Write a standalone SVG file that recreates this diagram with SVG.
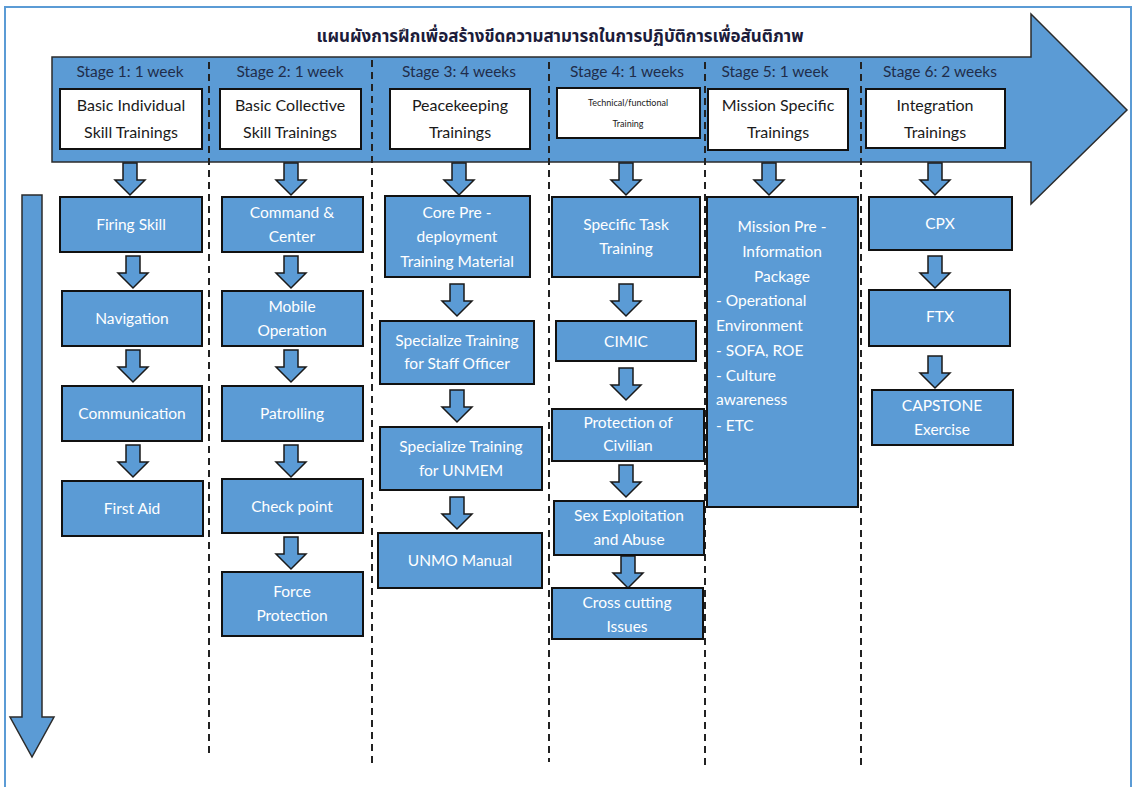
<svg xmlns="http://www.w3.org/2000/svg" xmlns:xlink="http://www.w3.org/1999/xlink" width="1133" height="787" viewBox="0 0 1133 787">
<style>
  .frame{fill:#ffffff;stroke:#5B9BD5;stroke-width:2}
  .big{fill:#5B9BD5;stroke:#2b2b2b;stroke-width:1.5}
  .wbox{fill:#ffffff;stroke:#111111;stroke-width:2}
  .bbox{fill:#5B9BD5;stroke:#111111;stroke-width:2}
  .arr{fill:#5B9BD5;stroke:#1a1a1a;stroke-width:1.5}
  .dash{stroke:#222222;stroke-width:2;stroke-dasharray:7 5;fill:none}
  .title{font-family:"Noto Sans Thai","Tahoma","DejaVu Sans",sans-serif;font-size:17px;font-weight:bold;fill:#1c1c3a;text-anchor:middle}
  .stage{font-family:Lato,"Liberation Sans",sans-serif;font-size:15.5px;fill:#1f2d4a;text-anchor:middle}
  .dk{font-family:Lato,"Liberation Sans",sans-serif;font-size:16px;fill:#1a1a1a;text-anchor:middle}
  .sm{font-family:Lato,"Liberation Sans",sans-serif;font-size:9px;fill:#1a1a1a;text-anchor:middle}
  .wt{font-family:Lato,"Liberation Sans",sans-serif;font-size:15.5px;fill:#ffffff;text-anchor:middle}
  .wl{font-family:Lato,"Liberation Sans",sans-serif;font-size:15.5px;fill:#ffffff;text-anchor:start}
</style>
<defs>
  <path id="dn" class="arr" d="M-7,0 H7 V17 H15 L0,32 L-15,17 H-7 Z"/>
</defs>
<rect class="frame" x="5" y="7" width="1126" height="790"/>
<text class="title" x="560" y="42">แผนผังการฝึกเพื่อสร้างขีดความสามารถในการปฏิบัติการเพื่อสันติภาพ</text>
<g id="timeline-arrow">
  <path class="big" d="M52,57 H1031 V14 L1127,110 L1031,204 V162 H52 Z"/>
</g>
<g id="progress-arrow">
  <path class="big" d="M22,195 H42 V717 H54 L32,757 L10,717 H22 Z"/>
</g>
<g id="separators">
  <line class="dash" x1="209" y1="62" x2="209" y2="757"/>
  <line class="dash" x1="372" y1="60" x2="372" y2="765"/>
  <line class="dash" x1="549" y1="62" x2="549" y2="762"/>
  <line class="dash" x1="705" y1="62" x2="705" y2="765"/>
  <line class="dash" x1="861" y1="62" x2="861" y2="770"/>
</g>
<g id="stage-labels">
  <text class="stage" x="130" y="77">Stage 1: 1 week</text>
  <text class="stage" x="290" y="77">Stage 2: 1 week</text>
  <text class="stage" x="459" y="77">Stage 3: 4 weeks</text>
  <text class="stage" x="627" y="77">Stage 4: 1 weeks</text>
  <text class="stage" x="775" y="77">Stage 5: 1 week</text>
  <text class="stage" x="940" y="77">Stage 6: 2 weeks</text>
</g>
<g id="connectors">
  <use xlink:href="#dn" x="130" y="163"/>
  <use xlink:href="#dn" x="291" y="163"/>
  <use xlink:href="#dn" x="459" y="163"/>
  <use xlink:href="#dn" x="626" y="163"/>
  <use xlink:href="#dn" x="769" y="163"/>
  <use xlink:href="#dn" x="935" y="163"/>
  <use xlink:href="#dn" x="133" y="256"/>
  <use xlink:href="#dn" x="133" y="350"/>
  <use xlink:href="#dn" x="133" y="445"/>
  <use xlink:href="#dn" x="291" y="256"/>
  <use xlink:href="#dn" x="291" y="350"/>
  <use xlink:href="#dn" x="291" y="445"/>
  <use xlink:href="#dn" x="291" y="537"/>
  <use xlink:href="#dn" x="457" y="284"/>
  <use xlink:href="#dn" x="457" y="390"/>
  <use xlink:href="#dn" x="457" y="497"/>
  <use xlink:href="#dn" x="626" y="284"/>
  <use xlink:href="#dn" x="626" y="368"/>
  <use xlink:href="#dn" x="626" y="465"/>
  <use xlink:href="#dn" x="628" y="556"/>
  <use xlink:href="#dn" x="935" y="256"/>
  <use xlink:href="#dn" x="935" y="356"/>
</g>
<g id="stage1-head"><rect class="wbox" x="60" y="89" width="142" height="60"/><text class="dk" x="131" y="111">Basic Individual</text><text class="dk" x="131" y="138">Skill Trainings</text></g>
<g id="stage2-head"><rect class="wbox" x="220" y="89" width="141" height="60"/><text class="dk" x="290" y="111">Basic Collective</text><text class="dk" x="290" y="138">Skill Trainings</text></g>
<g id="stage3-head"><rect class="wbox" x="390" y="89" width="140" height="60"/><text class="dk" x="460" y="111">Peacekeeping</text><text class="dk" x="460" y="138">Trainings</text></g>
<g id="stage4-head"><rect class="wbox" x="557" y="88" width="143" height="50"/><text class="sm" x="628" y="106">Technical/functional</text><text class="sm" x="628" y="127">Training</text></g>
<g id="stage5-head"><rect class="wbox" x="708" y="89" width="140" height="61"/><text class="dk" x="778" y="111">Mission Specific</text><text class="dk" x="778" y="138">Trainings</text></g>
<g id="stage6-head"><rect class="wbox" x="866" y="89" width="139" height="59"/><text class="dk" x="935" y="111">Integration</text><text class="dk" x="935" y="138">Trainings</text></g>

<g id="firing-skill"><rect class="bbox" x="60" y="197" width="142" height="55"/><text class="wt" x="131" y="230">Firing Skill</text></g>
<g id="navigation"><rect class="bbox" x="62" y="291" width="140" height="55"/><text class="wt" x="132" y="324">Navigation</text></g>
<g id="communication"><rect class="bbox" x="62" y="386" width="140" height="55"/><text class="wt" x="132" y="419">Communication</text></g>
<g id="first-aid"><rect class="bbox" x="62" y="481" width="141" height="55"/><text class="wt" x="132" y="514">First Aid</text></g>

<g id="command-center"><rect class="bbox" x="222" y="197" width="141" height="55"/><text class="wt" x="292" y="218">Command &amp;</text><text class="wt" x="292" y="242">Center</text></g>
<g id="mobile-operation"><rect class="bbox" x="222" y="291" width="141" height="55"/><text class="wt" x="292" y="312">Mobile</text><text class="wt" x="292" y="336">Operation</text></g>
<g id="patrolling"><rect class="bbox" x="222" y="386" width="141" height="55"/><text class="wt" x="292" y="419">Patrolling</text></g>
<g id="check-point"><rect class="bbox" x="222" y="479" width="141" height="54"/><text class="wt" x="292" y="512">Check point</text></g>
<g id="force-protection"><rect class="bbox" x="222" y="572" width="141" height="64"/><text class="wt" x="292" y="597">Force</text><text class="wt" x="292" y="621">Protection</text></g>

<g id="core-predeployment"><rect class="bbox" x="385" y="196" width="145" height="81"/><text class="wt" x="457" y="218">Core Pre -</text><text class="wt" x="457" y="242">deployment</text><text class="wt" x="457" y="267">Training Material</text></g>
<g id="staff-officer"><rect class="bbox" x="380" y="321" width="154" height="63"/><text class="wt" x="457" y="346">Specialize Training</text><text class="wt" x="457" y="369">for Staff Officer</text></g>
<g id="unmem"><rect class="bbox" x="380" y="427" width="162" height="63"/><text class="wt" x="461" y="452">Specialize Training</text><text class="wt" x="461" y="476">for UNMEM</text></g>
<g id="unmo-manual"><rect class="bbox" x="378" y="533" width="164" height="55"/><text class="wt" x="460" y="566">UNMO Manual</text></g>

<g id="specific-task"><rect class="bbox" x="552" y="197" width="148" height="80"/><text class="wt" x="626" y="230">Specific Task</text><text class="wt" x="626" y="254">Training</text></g>
<g id="cimic"><rect class="bbox" x="556" y="321" width="140" height="40"/><text class="wt" x="626" y="347">CIMIC</text></g>
<g id="protection-civilian"><rect class="bbox" x="552" y="409" width="152" height="52"/><text class="wt" x="628" y="428">Protection of</text><text class="wt" x="628" y="451">Civilian</text></g>
<g id="sex-exploitation"><rect class="bbox" x="554" y="501" width="150" height="54"/><text class="wt" x="629" y="521">Sex Exploitation</text><text class="wt" x="629" y="545">and Abuse</text></g>
<g id="cross-cutting"><rect class="bbox" x="552" y="588" width="151" height="51"/><text class="wt" x="627" y="608">Cross cutting</text><text class="wt" x="627" y="632">Issues</text></g>

<g id="mission-package"><rect class="bbox" x="707" y="197" width="151" height="310"/>
  <text class="wt" x="782" y="232">Mission Pre -</text>
  <text class="wt" x="782" y="257">Information</text>
  <text class="wt" x="782" y="282">Package</text>
  <text class="wl" x="716" y="306">- Operational</text>
  <text class="wl" x="716" y="331">Environment</text>
  <text class="wl" x="716" y="356">- SOFA, ROE</text>
  <text class="wl" x="716" y="381">- Culture</text>
  <text class="wl" x="716" y="405">awareness</text>
  <text class="wl" x="716" y="431">- ETC</text>
</g>

<g id="cpx"><rect class="bbox" x="869" y="197" width="143" height="53"/><text class="wt" x="940" y="229">CPX</text></g>
<g id="ftx"><rect class="bbox" x="869" y="290" width="141" height="56"/><text class="wt" x="940" y="322">FTX</text></g>
<g id="capstone"><rect class="bbox" x="872" y="390" width="141" height="55"/><text class="wt" x="942" y="411">CAPSTONE</text><text class="wt" x="942" y="435">Exercise</text></g>
</svg>
